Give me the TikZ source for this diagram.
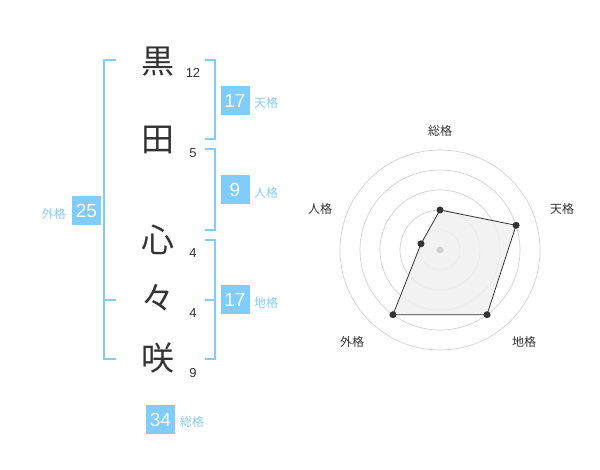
\documentclass[tikz,border=0pt]{standalone}
\usepackage{fontspec}
\setmainfont{Liberation Sans}
\newfontfamily\jpfont{Noto Sans CJK JP}
\definecolor{kblue}{RGB}{128,204,250}
\definecolor{klabel}{RGB}{135,205,245}
\definecolor{kdark}{RGB}{51,51,51}
\definecolor{kgrid}{RGB}{210,210,210}
\definecolor{kfill}{RGB}{240,240,240}
\tikzset{
  kanji/.style={text=kdark,font=\jpfont\fontsize{33}{33}\selectfont,inner sep=0pt},
  stroke/.style={text=kdark,font=\fontsize{13}{13}\selectfont,inner sep=0pt},
  valbox/.style={fill=kblue,text=white,minimum width=29pt,minimum height=29pt,inner sep=0pt,font=\fontsize{19}{19}\selectfont},
  vlabel/.style={text=klabel,font=\jpfont\fontsize{12}{12}\selectfont,inner sep=0pt},
  bracket/.style={draw=kblue,line width=2pt},
  ring/.style={draw=kgrid,line width=0.7pt},
  rlabel/.style={text=kdark,font=\jpfont\fontsize{12}{12}\selectfont,inner sep=0pt},
  dot/.style={circle,fill=kdark,inner sep=0pt,minimum size=7pt},
}
\begin{document}
\begin{tikzpicture}[x=1pt,y=-1pt]
\useasboundingbox (0,0) rectangle (600,470);
% kanji
\node[kanji] (k1) at (158,62) {黒};
\node[kanji] (k2) at (158,140) {田};
\node[kanji] (k3) at (158,240) {心};
\node[kanji] (k4) at (158,298) {々};
\node[kanji] (k5) at (158,358) {咲};
\node[stroke] (s1) at (193,73) {12};
\node[stroke] (s2) at (193,153) {5};
\node[stroke] (s3) at (193,253) {4};
\node[stroke] (s4) at (193,313) {4};
\node[stroke] (s5) at (193,373) {9};
% brackets
\draw[bracket] (116,60) -- (104,60) -- (104,359) -- (116,359);
\draw[bracket] (104,300) -- (116,300);
\draw[bracket] (205,60) -- (215,60) -- (215,139) -- (205,139);
\draw[bracket] (205,149) -- (215,149) -- (215,230) -- (205,230);
\draw[bracket] (205,240) -- (215,240) -- (215,359) -- (205,359);
\draw[bracket] (205,300) -- (215,300);
% value boxes
\node[valbox] (ten) at (235,100.5) {17};
\node[vlabel,anchor=west] (tenl) at (254,103) {天格};
\node[valbox] (jin) at (235,190) {9};
\node[vlabel,anchor=west] (jinl) at (254,193) {人格};
\node[valbox] (chi) at (235,300) {17};
\node[vlabel,anchor=west] (chil) at (254,303) {地格};
\node[valbox] (gai) at (86.5,211) {25};
\node[vlabel,anchor=east] (gail) at (66,214) {外格};
\node[valbox] (sou) at (160.5,419.5) {34};
\node[vlabel,anchor=west] (soul) at (180,422) {総格};
% radar
\coordinate (c) at (440,250);
\foreach \r in {20,40,60,80,100} \draw[ring] (c) circle[radius=\r];
\path (c) ++(0,-40) coordinate (pa);
\path (c) ++(76.1,-24.7) coordinate (pb);
\path (c) ++(47.0,64.7) coordinate (pc);
\path (c) ++(-47.0,64.7) coordinate (pd);
\path (c) ++(-19.0,-6.2) coordinate (pe);
\draw[kdark,line width=0.8pt,fill=kfill,fill opacity=0.85] (pa) -- (pb) -- (pc) -- (pd) -- (pe) -- cycle;
\fill[kgrid] (c) circle[radius=3.5];
\foreach \p in {pa,pb,pc,pd,pe} \node[dot] at (\p) {};
\node[rlabel] (r1) at (440,131) {総格};
\node[rlabel] (r2) at (562,209) {天格};
\node[rlabel] (r3) at (524,342) {地格};
\node[rlabel] (r4) at (352,342) {外格};
\node[rlabel] (r5) at (320,209) {人格};
\end{tikzpicture}
\end{document}
